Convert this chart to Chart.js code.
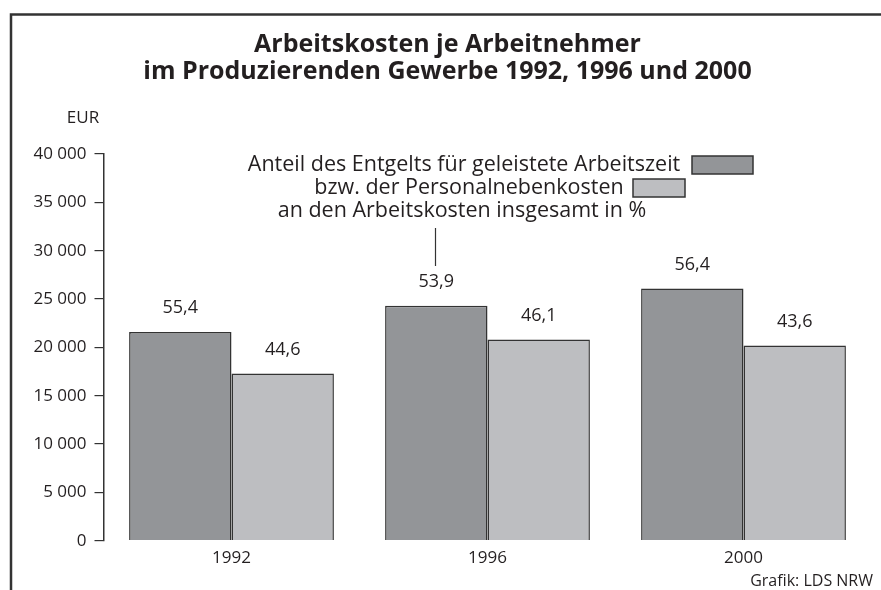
<!DOCTYPE html>
<html>
<head>
<meta charset="utf-8">
<script src="https://cdn.jsdelivr.net/npm/chart.js@4/dist/chart.umd.min.js"></script>
<style>
  html, body { margin: 0; padding: 0; background: #fff; }
  #wrap { width: 881px; height: 590px; position: relative; }
</style>
</head>
<body>
<div id="wrap"><canvas id="chart"></canvas></div>
<script>
const years = ['1992', '1996', '2000'];
// Arbeitskosten je Arbeitnehmer in EUR
const entgelt = [21600, 24300, 26100];
const nebenkosten = [17300, 20800, 20200];
// Anteile in %
const entgeltShare = [55.4, 53.9, 56.4];
const nebenShare = [44.6, 46.1, 43.6];

const titleLines = ['Arbeitskosten je Arbeitnehmer', 'im Produzierenden Gewerbe 1992, 1996 und 2000'];
const legendLines = ['Anteil des Entgelts für geleistete Arbeitszeit', 'bzw. der Personalnebenkosten', 'an den Arbeitskosten insgesamt in %'];

const darkGrey = '#939598';
const lightGrey = '#bdbec1';
const ink = '#231f20';
const FONT = '"Open Sans", "Noto Sans", sans-serif';

function fmtThousands(v) {
    return String(v).replace(/\B(?=(\d{3})+(?!\d))/g, ' ');
}

const decorPlugin = {
    id: 'decor',
    afterDraw(chart) {
        const ctx = chart.ctx;
        ctx.save();

        // Rahmen oben und links
        ctx.strokeStyle = '#333';
        ctx.lineWidth = 2.5;
        ctx.beginPath();
        ctx.moveTo(881, 14.5);
        ctx.lineTo(11, 14.5);
        ctx.lineTo(11, 590);
        ctx.stroke();

        // Titel
        ctx.fillStyle = ink;
        ctx.textAlign = 'center';
        ctx.textBaseline = 'middle';
        ctx.font = 'bold 25px ' + FONT;
        ctx.fillText(titleLines[0], 447.5, 45);
        ctx.fillText(titleLines[1], 447.5, 72);

        // Einheit
        ctx.font = '17px ' + FONT;
        ctx.fillText('EUR', 83, 118);

        // Legende
        ctx.font = '21.5px ' + FONT;
        ctx.fillText(legendLines[0], 464, 165);
        ctx.fillText(legendLines[1], 469, 188);
        ctx.fillText(legendLines[2], 462, 211);

        ctx.lineWidth = 1.5;
        ctx.strokeStyle = '#333';
        ctx.fillStyle = darkGrey;
        ctx.fillRect(692, 156, 61, 18);
        ctx.strokeRect(692, 156, 61, 18);
        ctx.fillStyle = lightGrey;
        ctx.fillRect(633, 179, 52, 18);
        ctx.strokeRect(633, 179, 52, 18);

        // Verbindungslinie
        ctx.lineWidth = 1.2;
        ctx.beginPath();
        ctx.moveTo(435.5, 228);
        ctx.lineTo(435.5, 266);
        ctx.stroke();

        // Prozentwerte über den Säulen
        ctx.fillStyle = ink;
        ctx.font = '18px ' + FONT;
        const shares = [entgeltShare, nebenShare];
        shares.forEach((arr, di) => {
            const meta = chart.getDatasetMeta(di);
            meta.data.forEach((bar, i) => {
                const label = arr[i].toFixed(1).replace('.', ',');
                ctx.fillText(label, bar.x, bar.y - 24);
            });
        });

        // Quelle
        ctx.textAlign = 'right';
        ctx.font = '16px ' + FONT;
        ctx.fillText('Grafik: LDS NRW', 873, 581);

        ctx.restore();
    }
};

const ctx = document.getElementById('chart').getContext('2d');
new Chart(ctx, {
    type: 'bar',
    data: {
        labels: years,
        datasets: [{
            label: 'Entgelt für geleistete Arbeitszeit',
            data: entgelt,
            backgroundColor: darkGrey,
            borderColor: '#333',
            borderWidth: 1.5,
            categoryPercentage: 0.8,
            barPercentage: 1.0
        }, {
            label: 'Personalnebenkosten',
            data: nebenkosten,
            backgroundColor: lightGrey,
            borderColor: '#333',
            borderWidth: 1.5,
            categoryPercentage: 0.8,
            barPercentage: 1.0
        }]
    },
    options: {
        responsive: true,
        maintainAspectRatio: false,
        animation: false,
        layout: {
            padding: { top: 154, right: 9.5, left: 0, bottom: 0 }
        },
        plugins: {
            legend: { display: false },
            title: { display: false },
            tooltip: { enabled: false }
        },
        scales: {
            x: {
                grid: { display: false, drawTicks: false },
                border: { display: false },
                ticks: {
                    color: ink,
                    padding: 7,
                    font: { family: FONT, size: 17 }
                },
                afterFit(scale) { scale.height = 49.3; }
            },
            y: {
                min: 0,
                max: 40000,
                ticks: {
                    stepSize: 5000,
                    color: ink,
                    padding: 8,
                    font: { family: FONT, size: 17 },
                    callback: (v) => fmtThousands(v)
                },
                grid: {
                    drawOnChartArea: false,
                    drawTicks: true,
                    tickLength: 9,
                    color: '#333',
                    lineWidth: 1.2
                },
                border: { display: true, color: '#333', width: 1.5 },
                afterFit(scale) { scale.width = 103.5; }
            }
        }
    },
    plugins: [decorPlugin]
});
</script>
</body>
</html>
